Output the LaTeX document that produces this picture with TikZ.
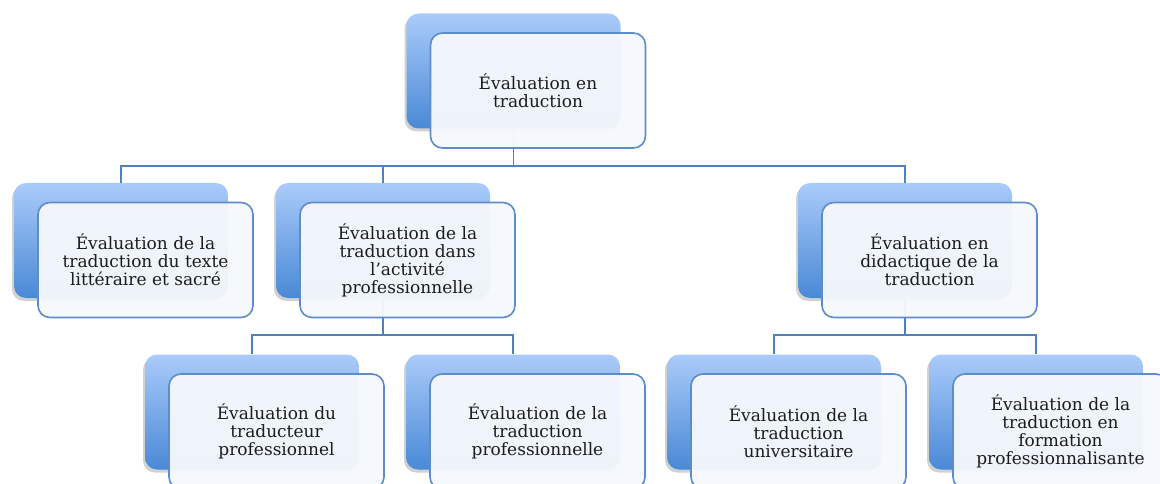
\documentclass[tikz,border=0pt]{standalone}
\usepackage{fontspec}
\setmainfont{DejaVu Serif}
\usetikzlibrary{shadows,positioning}
\definecolor{backtop}{RGB}{170,203,250}
\definecolor{backbot}{RGB}{74,137,214}
\definecolor{frontfill}{RGB}{245,248,252}
\definecolor{frontline}{RGB}{92,141,201}
\definecolor{conn}{RGB}{79,129,189}
\definecolor{txt}{RGB}{28,28,28}
\tikzset{
  backbox/.style={rectangle, rounded corners=12pt, minimum width=214pt, minimum height=115pt,
    top color=backtop, bottom color=backbot, draw=none,
    drop shadow={shadow xshift=-2pt, shadow yshift=-3pt, opacity=0.3, fill=black!60}},
  frontbox/.style={rectangle, rounded corners=12pt, minimum width=215pt, minimum height=115pt,
    fill=frontfill, fill opacity=0.96, text opacity=1, draw=frontline, line width=1.6pt,
    align=center, text=txt, font=\fontsize{17}{18}\selectfont, inner sep=2pt},
  link/.style={draw=conn, line width=1.6pt}
}
\begin{document}
\begin{tikzpicture}[x=1pt,y=-1pt]
\useasboundingbox (0,0) rectangle (1160,484);
\clip (0,0) rectangle (1160,484);
% back boxes
\node[backbox] (b0) at (513.5,71) {};
\node[backbox] (b1) at (121,240.5) {};
\node[backbox] (b2) at (383,240.5) {};
\node[backbox] (b3) at (905,240.5) {};
\node[backbox] (b4) at (252,412) {};
\node[backbox] (b5) at (513,412) {};
\node[backbox] (b6) at (774,412) {};
\node[backbox] (b7) at (1036,412) {};
% level coordinates
\coordinate (h1) at (0,166);
\coordinate (h2) at (0,335);
% connectors
\draw[link] (b0.south) -- (b0.south |- h1) -| (b1.north);
\draw[link] (b0.south |- h1) -| (b2.north);
\draw[link] (b0.south |- h1) -| (b3.north);
\draw[link] (b2.south) -- (b2.south |- h2) -| (b4.north);
\draw[link] (b2.south |- h2) -| (b5.north);
\draw[link] (b3.south) -- (b3.south |- h2) -| (b6.north);
\draw[link] (b3.south |- h2) -| (b7.north);
% front boxes
\node[frontbox] (f0) at ([shift={(24.5,19.5)}]b0.center) {Évaluation en\\traduction};
\node[frontbox] (f1) at ([shift={(24.5,19.5)}]b1.center) {Évaluation de la\\traduction du texte\\littéraire et sacré};
\node[frontbox] (f2) at ([shift={(24.5,19.5)}]b2.center) {Évaluation de la\\traduction dans\\l’activité\\professionnelle};
\node[frontbox] (f3) at ([shift={(24.5,19.5)}]b3.center) {Évaluation en\\didactique de la\\traduction};
\node[frontbox] (f4) at ([shift={(24.5,19.5)}]b4.center) {Évaluation du\\traducteur\\professionnel};
\node[frontbox] (f5) at ([shift={(24.5,19.5)}]b5.center) {Évaluation de la\\traduction\\professionnelle};
\node[frontbox] (f6) at ([shift={(24.5,19.5)}]b6.center) {Évaluation de la\\traduction\\universitaire};
\node[frontbox] (f7) at ([shift={(24.5,19.5)}]b7.center) {Évaluation de la\\traduction en\\formation\\professionnalisante};
\end{tikzpicture}
\end{document}
